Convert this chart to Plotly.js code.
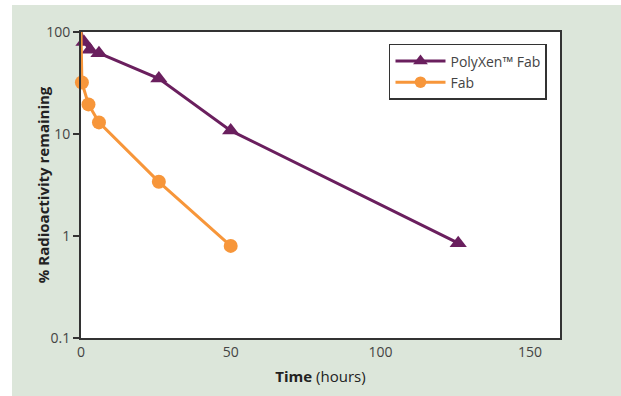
<!DOCTYPE html>
<html><head><meta charset="utf-8">
<script src="https://cdn.plot.ly/plotly-3.0.1.min.js"></script>
<style>
html,body{margin:0;padding:0;background:#fff;width:621px;height:396px;overflow:hidden;}
#chart{position:absolute;left:12px;top:5px;width:609px;height:391px;}
</style></head><body>
<div id="chart"></div>
<script>
// Data
var polyxenHours = [0, 1, 3, 6, 26, 50, 126];
var polyxenPct   = [100, 80, 67, 62, 35, 10.8, 0.85];
var fabHours = [0, 0.3, 2.5, 6, 26, 50];
var fabPct   = [100, 32, 19.5, 13, 3.4, 0.8];
var yTickVals = [0.1, 1, 10, 100];
var yTickText = ['0.1', '1', '10', '100'];
var xTickVals = [0, 50, 100, 150];
var xTickText = ['0', '50', '100', '150'];

var purple = '#6a1f5e', orange = '#f7963a';
var fontFam = '"Open Sans", "DejaVu Sans", sans-serif';

var traces = [
  {x: polyxenHours, y: polyxenPct, name: 'PolyXen™ Fab', mode: 'lines+markers',
   line: {color: purple, width: 3},
   marker: {symbol: 'triangle-up', color: purple, opacity: 1, line: {width: 0},
            size: polyxenHours.map(function(h,i){return i===0?0:15;})},
   cliponaxis: false},
  {x: fabHours, y: fabPct, name: 'Fab', mode: 'lines+markers',
   line: {color: orange, width: 3},
   marker: {symbol: 'circle', color: orange, opacity: 1, line: {width: 0},
            size: fabHours.map(function(h,i){return i===0?0:14;})},
   cliponaxis: false}
];

var layout = {
  width: 609, height: 391,
  paper_bgcolor: '#dce6da', plot_bgcolor: '#ffffff',
  margin: {l: 69, r: 61, t: 27, b: 58},
  font: {family: fontFam, size: 14, color: '#444'},
  showlegend: true,
  legend: {x: 0.643, y: 0.961, xanchor: 'left', yanchor: 'top',
    bgcolor: '#ffffff', bordercolor: '#333', borderwidth: 1.5,
    font: {family: fontFam, size: 14, color: '#444'}, tracegroupgap: 0, itemwidth: 50},
  xaxis: {range: [0, 160], tickvals: xTickVals, ticktext: xTickText,
    showgrid: false, zeroline: false, showline: true, mirror: true,
    linecolor: '#333', linewidth: 2, ticks: '', ticklen: 0,
    tickfont: {size: 14, color: '#444'},
    title: {text: '<b>Time</b> (hours)', font: {size: 15, color: '#222'}, standoff: 12}},
  yaxis: {type: 'log', range: [-1, 2], tickvals: yTickVals, ticktext: yTickText,
    showgrid: false, zeroline: false, showline: true, mirror: true,
    linecolor: '#333', linewidth: 2, ticks: 'outside', ticklen: 6, tickwidth: 1.5, tickcolor: '#333',
    tickfont: {size: 14, color: '#444'}},
  annotations: [{text: '<b>% Radioactivity remaining</b>', textangle: -90,
    xref: 'paper', yref: 'paper', x: -0.079, y: 0.5, xanchor: 'center', yanchor: 'middle',
    showarrow: false, font: {family: fontFam, size: 15, color: '#222'}}]
};

Plotly.newPlot('chart', traces, layout, {displayModeBar: false, staticPlot: true});
</script>
</body></html>
